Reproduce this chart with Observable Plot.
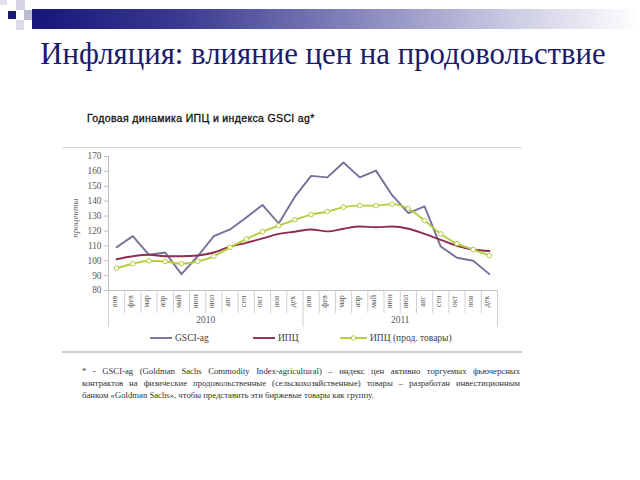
<!DOCTYPE html>
<html>
<head>
<meta charset="utf-8">
<script src="https://cdn.jsdelivr.net/npm/d3@7"></script>
<script src="https://cdn.jsdelivr.net/npm/@observablehq/plot@0.6"></script>
<style>
  html, body { margin: 0; padding: 0; background: #fff; }
  #page { position: relative; width: 640px; height: 480px; overflow: hidden; background: #fff; }
  .abs { position: absolute; }
  #title { left: 0; width: 646px; top: 37px; text-align: center; font-family: "Liberation Serif", serif; font-size: 30.8px; color: #1b1b6b; white-space: nowrap; }
  #subtitle { left: 87px; top: 112px; font-family: "Liberation Sans", Arial, sans-serif; font-size: 10.5px; color: #111; white-space: nowrap; letter-spacing: 0.35px; -webkit-text-stroke: 0.3px #111; }
  #topline { left: 62px; top: 147px; width: 460px; height: 0; border-top: 1.5px solid #d9d9d9; }
  #bottomline { left: 62px; top: 351px; width: 460px; height: 0; border-top: 2px solid #cfcfcf; }
  #chart { left: 60px; top: 148px; }
  #ylabel { left: 75px; top: 218px; transform: translate(-50%, -50%) rotate(-90deg); font-family: "Liberation Serif", serif; font-style: italic; font-size: 9px; color: #595959; white-space: nowrap; }
  .leg { position: absolute; top: 332px; font-family: "Liberation Serif", serif; font-size: 9.5px; color: #404040; white-space: nowrap; display: flex; align-items: center; height: 12px; }
  .leg svg { margin-right: 3px; }
  #foot { left: 82px; top: 365px; width: 438px; font-family: "Liberation Serif", serif; font-size: 8.7px; color: #333; line-height: 12px; }
  #foot div { text-align: justify; text-align-last: justify; white-space: nowrap; }
  #foot div.last { text-align-last: left; }
</style>
</head>
<body>
<div id="page">
  <div class="abs" style="left:0;top:0;width:7px;height:5px;background:#e2e2ee"></div>
  <div class="abs" style="left:16px;top:0;width:9px;height:10px;background:#d4d4e4"></div>
  <div class="abs" style="left:8px;top:11px;width:8px;height:8px;background:#1a1a6e"></div>
  <div class="abs" style="left:24px;top:10px;width:9px;height:10px;background:#bcbcd0"></div>
  <div class="abs" style="left:16px;top:20px;width:8px;height:10px;background:#dadaea"></div>
  <div class="abs" style="left:32px;top:9px;width:608px;height:20px;background:linear-gradient(to right,#16167c 0%,#3b3b92 25%,#8a8abf 55%,#c9c9e2 78%,#ffffff 100%)"></div>

  <div id="title" class="abs">Инфляция: влияние цен на продовольствие</div>
  <div id="subtitle" class="abs">Годовая динамика ИПЦ и индекса GSCI ag*</div>
  <div id="topline" class="abs"></div>
  <div id="chart" class="abs"></div>
  <div id="ylabel" class="abs">проценты</div>
  <div id="legend"></div>
  <div id="bottomline" class="abs"></div>
  <div id="foot" class="abs">
    <div>* - GSCI-ag (Goldman Sachs Commodity Index-agricultural) – индекс цен активно торгуемых фьючерсных</div>
    <div>контрактов на физические продовольственные (сельскохозяйственные) товары – разработан инвестиционным</div>
    <div class="last">банком «Goldman Sachs», чтобы представить эти биржевые товары как группу.</div>
  </div>
</div>
<script>
// ---- data ----
const months = ["янв","фев","мар","апр","май","июн","июл","авг","сен","окт","ноя","дек"];
const years = ["2010","2011"];
const yTicks = [80, 90, 100, 110, 120, 130, 140, 150, 160, 170];
const seriesNames = ["GSCI-ag", "ИПЦ", "ИПЦ (прод. товары)"];
const gsci = [109, 116.5, 104, 105.5, 91, 103, 116.5, 121, 129, 137.5, 125, 143,
              157, 156, 166, 156, 160.5, 144, 132, 136.5, 109.5, 102, 100, 91];
const cpi = [101, 103, 104, 103, 103, 103.5, 105.5, 109.5, 112, 115, 118, 119.5,
             121, 119.7, 121.5, 123, 122.5, 123, 121.5, 118, 114, 110, 107.5, 106.5];
const cpiFood = [95, 98, 100, 99.5, 98, 99.5, 103, 109, 114.5, 119.5, 123.5, 127.5,
                 131, 133, 136, 137, 137, 138, 135, 127, 118, 111.5, 107.5, 103.5];
const colors = ["#72729a", "#8e2c52", "#b4cd3c"];

// ---- derived tables ----
const n = gsci.length;
const idx = d3.range(n);
const rows = idx.map(i => ({i, gsci: gsci[i], cpi: cpi[i], food: cpiFood[i], month: months[i % 12]}));
const xDomain = [-0.5, n - 0.5];
const monthSeps = d3.range(1, n).filter(k => k % 12 !== 0).map(k => k - 0.5);
const yearSeps = d3.range(0, n + 1, 12).map(k => k - 0.5);
const yearRows = years.map((y, j) => ({y, x: d3.mean(idx.filter(i => Math.floor(i / 12) === j))}));

const axisGray = "#bfbfbf";
const plot = Plot.plot({
  width: 462, height: 204,
  marginLeft: 48, marginRight: 25, marginTop: 8, marginBottom: 62,
  style: {background: "transparent", fontFamily: "Liberation Serif, serif", overflow: "visible"},
  x: {domain: xDomain, axis: null},
  y: {domain: [yTicks[0], yTicks[yTicks.length - 1]], axis: null},
  marks: [
    Plot.axisY({ticks: yTicks, tickSize: 4, tickPadding: 3, fontSize: 9.3, stroke: axisGray, fill: "#595959", label: null}),
    Plot.ruleY([yTicks[0]], {stroke: axisGray}),
    Plot.ruleX(monthSeps, {stroke: "#d0d0d0", insetTop: 134, insetBottom: -23}),
    Plot.ruleX(yearSeps, {stroke: "#d0d0d0", insetTop: 134, insetBottom: -37}),
    Plot.ruleX([xDomain[0]], {stroke: axisGray}),
    Plot.text(rows, {x: "i", text: "month", frameAnchor: "bottom", dy: 11, rotate: -90, textAnchor: "middle", fontSize: 8, fill: "#595959"}),
    Plot.text(yearRows, {x: "x", text: "y", frameAnchor: "bottom", dy: 32, fontSize: 9.5, fill: "#595959"}),
    Plot.line(rows, {x: "i", y: "gsci", stroke: colors[0], strokeWidth: 1.9}),
    Plot.line(rows, {x: "i", y: "cpi", stroke: colors[1], strokeWidth: 1.9, curve: "monotone-x"}),
    Plot.line(rows, {x: "i", y: "food", stroke: colors[2], strokeWidth: 1.9, curve: "monotone-x"}),
    Plot.dot(rows, {x: "i", y: "food", r: 2.3, fill: "white", stroke: colors[2], strokeWidth: 1})
  ]
});
document.getElementById("chart").appendChild(plot);

// ---- legend ----
const legLefts = [150, 253, 340];
const legWidths = [22, 22, 27];
const legend = document.getElementById("legend");
seriesNames.forEach((name, k) => {
  const el = document.createElement("div");
  el.className = "leg";
  el.style.left = legLefts[k] + "px";
  const w = legWidths[k];
  const marker = k === 2 ? `<circle cx="${w/2}" cy="6" r="2.3" fill="white" stroke="${colors[k]}" stroke-width="1"/>` : "";
  el.innerHTML = `<svg width="${w}" height="12"><line x1="0" x2="${w}" y1="6" y2="6" stroke="${colors[k]}" stroke-width="1.9"/>${marker}</svg><span>${name}</span>`;
  legend.appendChild(el);
});
</script>
</body>
</html>
